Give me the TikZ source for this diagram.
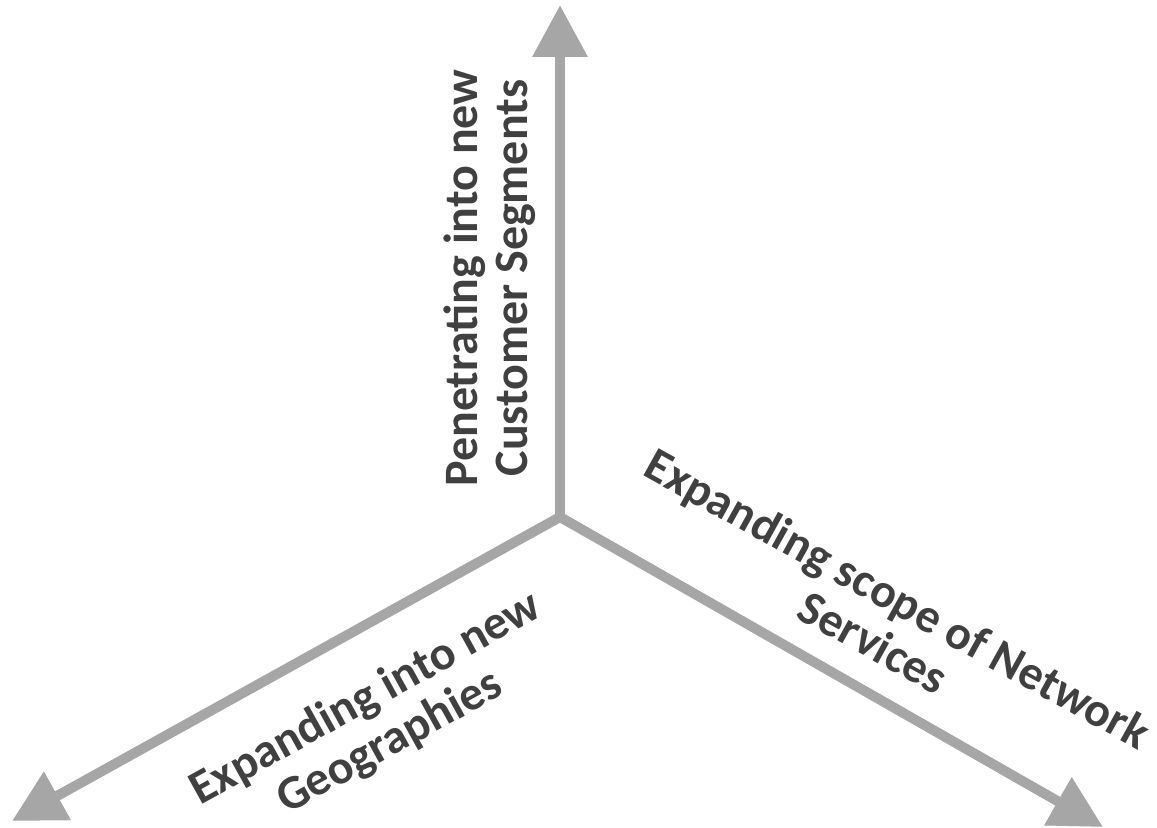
\documentclass[tikz,border=0pt]{standalone}
\usepackage{fontspec}
\setmainfont{Carlito}
\usetikzlibrary{arrows.meta}
\definecolor{axisgray}{HTML}{A6A6A6}
\definecolor{labelgray}{HTML}{404040}

\begin{document}
\begin{tikzpicture}[x=0.02cm, y=-0.02cm, >={Triangle[length=1.04cm, width=1.06cm]},
  axis/.style={->, draw=axisgray, line width=0.2cm, line cap=round},
  every node/.style={font=\fontsize{27.3}{28.5}\selectfont\bfseries, text=labelgray, align=center, inner sep=0pt}]
\useasboundingbox (0,0) rectangle (1157,828);
\coordinate (o) at (560,517);
\coordinate (segtip) at (560,5);
\coordinate (geotip) at (12,821);
\coordinate (servtip) at (1103,827);
\draw[axis] (o) -- (segtip);
\draw[axis] (o) -- (geotip);
\draw[axis] (o) -- (servtip);
\node[rotate=90] (segments) at (490,278) {Penetrating into new\\ Customer Segments};
\node[rotate=29] (geographies) at (378,721) {Expanding into new\\ Geographies};
\node[rotate=-29] (services) at (886,620) {Expanding scope of Network\\ Services};
\end{tikzpicture}
\end{document}
